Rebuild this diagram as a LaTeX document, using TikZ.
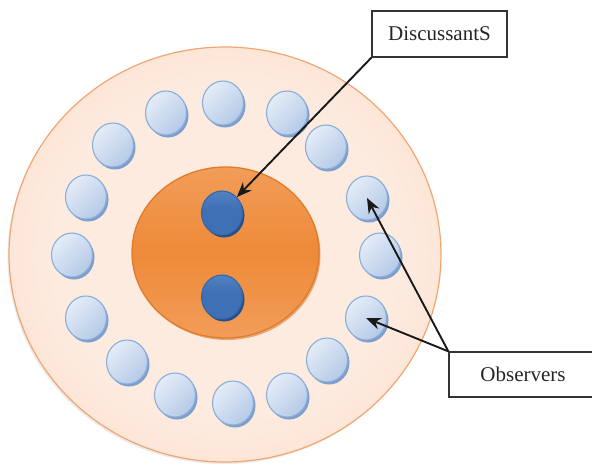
\documentclass[tikz,border=0pt]{standalone}
\usepackage{fontspec}
\setmainfont{Liberation Serif}
\usetikzlibrary{shapes.geometric,arrows.meta,shadows}
\definecolor{peachA}{HTML}{FDEBE0}
\definecolor{peachM}{HTML}{FBDDC9}
\definecolor{peachB}{HTML}{F4B888}
\definecolor{peachLine}{HTML}{F2A570}
\definecolor{orB}{HTML}{F5AF7A}
\definecolor{orM}{HTML}{EE8A38}
\definecolor{orLine}{HTML}{E07B2B}
\definecolor{orShadow}{HTML}{D9782F}
\definecolor{lbA}{HTML}{E4ECF7}
\definecolor{lbB}{HTML}{B5CAE7}
\definecolor{lbLine}{HTML}{8AAEDA}
\definecolor{lbShadow}{HTML}{7E9ECB}
\definecolor{dbA}{HTML}{6C98D2}
\definecolor{dbM}{HTML}{3F70B5}
\definecolor{dbLine}{HTML}{3566AB}
\definecolor{dbShadow}{HTML}{23508C}
\definecolor{boxLine}{HTML}{333333}
\pgfdeclareradialshading{peachrad}{\pgfpoint{0bp}{0bp}}{color(0bp)=(peachA); color(20bp)=(peachA); color(34bp)=(peachM); color(50bp)=(peachB); color(60bp)=(peachB)}
\pgfdeclareverticalshading{orangev}{100bp}{color(0bp)=(orB); color(50bp)=(orM); color(100bp)=(orB)}
\pgfdeclareverticalshading{darkv}{100bp}{color(0bp)=(dbM); color(55bp)=(dbM); color(100bp)=(dbA)}
\tikzset{
  outerdisc/.style={ellipse, inner sep=0pt, minimum width=432pt, minimum height=415pt,
    shading=peachrad, draw=peachLine, line width=1.2pt,
    drop shadow={shadow xshift=-1.5pt, shadow yshift=-2pt, fill=black, opacity=0.08}},
  innerdisc/.style={ellipse, inner sep=0pt, minimum width=187pt, minimum height=171pt,
    shading=orangev, draw=orLine, line width=1.3pt,
    drop shadow={shadow xshift=1.5pt, shadow yshift=-2pt, fill=orShadow, opacity=0.6}},
  observer/.style={ellipse, inner sep=0pt, minimum width=41pt, minimum height=44pt,
    top color=lbA, bottom color=lbB, shading angle=45, draw=lbLine, line width=1.1pt,
    drop shadow={shadow xshift=2pt, shadow yshift=-2.5pt, fill=lbShadow, opacity=1}},
  discussant/.style={ellipse, inner sep=0pt, minimum width=41pt, minimum height=44pt,
    shading=darkv, draw=dbLine, line width=1.1pt,
    drop shadow={shadow xshift=2pt, shadow yshift=-2.5pt, fill=dbShadow, opacity=1}},
  labelbox/.style={draw=boxLine, line width=1.3pt, fill=white, inner sep=0pt,
    font=\fontsize{21}{24}\selectfont, text=black!85},
  pointer/.style={draw=black!90, line width=1.9pt, -{Stealth[length=15pt,width=12pt]}}
}
\begin{document}
\begin{tikzpicture}[x=1pt, y=-1pt]
\useasboundingbox (0,0) rectangle (592,464);
\node[outerdisc] (outer) at (225,254.5) {};
\node[innerdisc] (inner) at (225.5,252.5) {};
\foreach \i/\x/\y in {1/223/103, 2/287/113, 3/326/147, 4/367/198, 5/380/255, 6/366/318,
  7/327/360, 8/287/395, 9/233/403, 10/175/395, 11/127/362, 12/86/318, 13/72/255,
  14/86/197, 15/113/145, 16/166/113}
  \node[observer] (o\i) at (\x,\y) {};
\node[discussant] (d1) at (222,213) {};
\node[discussant] (d2) at (222,297) {};
\node[labelbox, minimum width=135pt, minimum height=46pt] (disc) at (439.5,34) {DiscussantS};
\node[labelbox, minimum width=162pt, minimum height=45pt] (obs) at (530,374.5) {Observers\hspace*{14pt}};
\draw[pointer] (disc.south west) -- (d1.north east);
\draw[pointer] (obs.north west) -- (o4.center);
\draw[pointer] (obs.north west) -- (o6.center);
\end{tikzpicture}
\end{document}
